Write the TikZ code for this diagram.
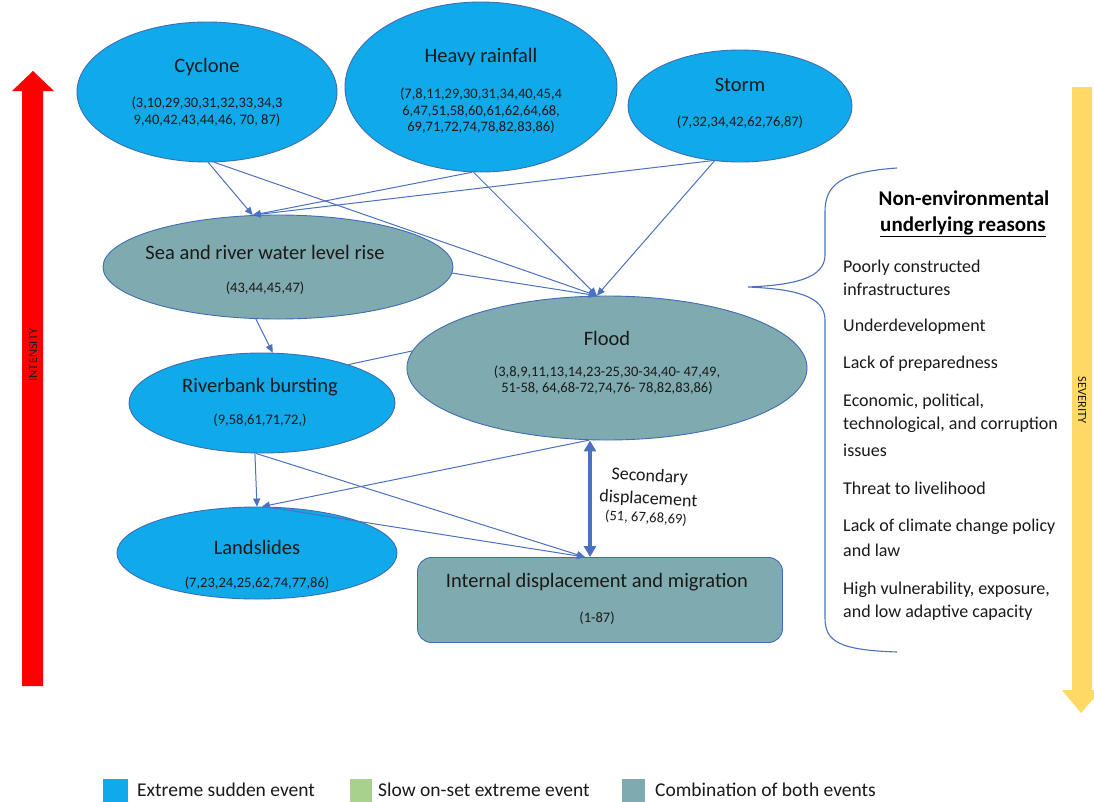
\documentclass[tikz,border=0pt]{standalone}
\usepackage{fontspec}
\setmainfont{Carlito}
\usetikzlibrary{shapes.geometric,arrows.meta,calc}
\definecolor{sudden}{HTML}{10A9EA}
\definecolor{combo}{HTML}{7FAAAF}
\definecolor{edgec}{HTML}{3E6DB5}
\definecolor{connc}{HTML}{4A72C0}
\definecolor{slow}{HTML}{A9D18E}
\definecolor{sev}{HTML}{FFD966}
\definecolor{txt}{HTML}{1A1A1A}
\tikzset{
  sud/.style={ellipse, draw=edgec, fill=sudden, line width=0.9pt, inner sep=0pt},
  comb/.style={ellipse, draw=edgec, fill=combo, line width=0.9pt, inner sep=0pt},
  ttl/.style={font=\fontsize{20.5}{24}\selectfont, text=txt, inner sep=0pt},
  num/.style={font=\fontsize{14.5}{16.5}\selectfont, text=txt, align=center, inner sep=0pt},
  conn/.style={draw=connc, line width=1pt, -{Triangle[length=8pt,width=7pt]}},
  plain/.style={draw=connc, line width=1pt},
  dbl/.style={draw=connc, line width=3.5pt, {Triangle[length=11pt,width=12pt]}-{Triangle[length=11pt,width=12pt]}},
  item/.style={font=\fontsize{18}{23}\selectfont, text=txt, anchor=west, inner sep=0pt},
  leg/.style={font=\fontsize{19.5}{22}\selectfont, text=txt, anchor=west, inner sep=0pt},
  sq/.style={minimum width=23pt, minimum height=23pt, inner sep=0pt, draw=none}
}
\begin{document}
\begin{tikzpicture}[x=1pt,y=-1pt]
\useasboundingbox[fill=white] (0,0) rectangle (1094,801);

% side arrows
\fill[red] (22,686) -- (22,91) -- (12,91) -- (33,71) -- (54,91) -- (43,91) -- (43,686) -- cycle;
\node[rotate=90, font=\fontsize{12.5}{14}\selectfont, text=txt] (intens) at (33,355) {INTENSITY};
\fill[sev] (1072,87) -- (1092,87) -- (1092,690) -- (1101,690) -- (1081,713) -- (1062,690) -- (1072,690) -- cycle;
\node[rotate=-90, font=\fontsize{12.5}{14}\selectfont, text=txt] (sevt) at (1082,400) {SEVERITY};

% shapes
\node[sud, minimum width=260pt, minimum height=140pt] (cyc) at (207,92) {};
\node[sud, minimum width=272pt, minimum height=170pt] (hr) at (481,87) {};
\node[sud, minimum width=224pt, minimum height=112pt] (st) at (740,106) {};
\node[comb, minimum width=350pt, minimum height=104pt] (sea) at (278,267) {};
\node[comb, minimum width=400pt, minimum height=144pt] (fl) at (607,368) {};
\node[sud, minimum width=266pt, minimum height=100pt] (rb) at (262,403) {};
\node[sud, minimum width=280pt, minimum height=92pt] (ls) at (257,553) {};
\node[draw=edgec, fill=combo, line width=0.9pt, rounded corners=14pt, minimum width=365pt, minimum height=85pt, inner sep=0pt] (idm) at (600,600) {};

% texts
\node[ttl] (cycT) at (207,67) {Cyclone};
\node[num, font=\fontsize{14.5}{17}\selectfont] (cycN) at (207,112) {(3,10,29,30,31,32,33,34,3\\9,40,42,43,44,46, 70, 87)};
\node[ttl] (hrT) at (481,57) {Heavy rainfall};
\node[num] (hrN) at (481,111) {(7,8,11,29,30,31,34,40,45,4\\6,47,51,58,60,61,62,64,68,\\69,71,72,74,78,82,83,86)};
\node[ttl] (stT) at (740,85) {Storm};
\node[num] (stN) at (740,122) {(7,32,34,42,62,76,87)};
\node[ttl] (seaT) at (265,252) {Sea and river water level rise};
\node[num] (seaN) at (265,288) {(43,44,45,47)};
\node[ttl] (flT) at (607,338) {Flood};
\node[num] (flN) at (607,380) {(3,8,9,11,13,14,23-25,30-34,40- 47,49,\\51-58, 64,68-72,74,76- 78,82,83,86)};
\node[ttl] (rbT) at (260,387) {Riverbank bursting};
\node[num] (rbN) at (260,420) {(9,58,61,71,72,)};
\node[ttl] (lsT) at (257,547) {Landslides};
\node[num] (lsN) at (257,583) {(7,23,24,25,62,74,77,86)};
\node[ttl] (idmT) at (597,582) {Internal displacement and migration};
\node[num] (idmN) at (597,618) {(1-87)};

% connector end points
\coordinate (idmIn) at ($(idm.north)+(-15,0)$);
\coordinate (flB) at ($(fl.south)+(-17,0)$);
\coordinate (idmB) at ($(idm.north)+(-10,0)$);

% connectors
\draw[conn] (cyc.-89) -- (sea.116);
\draw[conn] (cyc.-84) -- (fl.98);
\draw[conn] (hr.-96) -- (sea.116);
\draw[conn] (hr.-95) -- (fl.98);
\draw[conn] (st.-117) -- (sea.116);
\draw[conn] (st.-115) -- (fl.98);
\draw[conn] (sea.-2) -- (fl.98);
\draw[conn] (sea.-113) -- (rb.78);
\draw[plain] (rb.24) -- (fl.175);
\draw[conn] (rb.-98) -- (ls.90);
\draw[conn] (fl.-104) -- (ls.84);
\draw[conn] (rb.-97) -- (idmIn);
\draw[conn] (ls.80) -- (idmIn);
\draw[dbl] (flB) -- (idmB);

\node[font=\fontsize{18}{23}\selectfont, text=txt, align=center, rotate=-3, inner sep=0pt] (secT) at (649,488) {Secondary\\displacement};
\node[num, rotate=-3] (secN) at (646,518) {(51, 67,68,69)};

% brace
\draw[connc, line width=1.1pt] (897,168) .. controls (840,172) and (825,185) .. (825,212) -- (825,255)
  .. controls (825,278) and (795,285) .. (748,287)
  .. controls (795,289) and (825,296) .. (825,320) -- (825,618)
  .. controls (825,642) and (840,650) .. (897,652);

% right side text
\node[font=\fontsize{21}{25}\bfseries\selectfont, text=black, inner sep=0pt] (neT1) at (964,198) {Non-environmental};
\node[font=\fontsize{21}{25}\bfseries\selectfont, text=black, inner sep=0pt] (neT2) at (963,227) {\underline{underlying reasons}};
\node[item] (r1a) at (843,268) {Poorly constructed};
\node[item] (r1b) at (843,289) {infrastructures};
\node[item] (r2) at (843,327) {Underdevelopment};
\node[item] (r3) at (843,364) {Lack of preparedness};
\node[item] (r4a) at (843,402) {Economic, political,};
\node[item] (r4b) at (843,425) {technological, and corruption};
\node[item] (r4c) at (843,450) {issues};
\node[item] (r5) at (843,488) {Threat to livelihood};
\node[item] (r6a) at (843,527) {Lack of climate change policy};
\node[item] (r6b) at (843,550) {and law};
\node[item] (r7a) at (843,590) {High vulnerability, exposure,};
\node[item] (r7b) at (843,613) {and low adaptive capacity};

% legend
\node[sq, fill=sudden, minimum width=25pt] (lg1) at (115.5,790) {};
\node[leg] (lg1t) at (137,790) {Extreme sudden event};
\node[sq, fill=slow, minimum width=22pt] (lg2) at (361,790) {};
\node[leg] (lg2t) at (378,790) {Slow on-set extreme event};
\node[sq, fill=combo] (lg3) at (633.5,790) {};
\node[leg] (lg3t) at (655,790) {Combination of both events};
\end{tikzpicture}
\end{document}
